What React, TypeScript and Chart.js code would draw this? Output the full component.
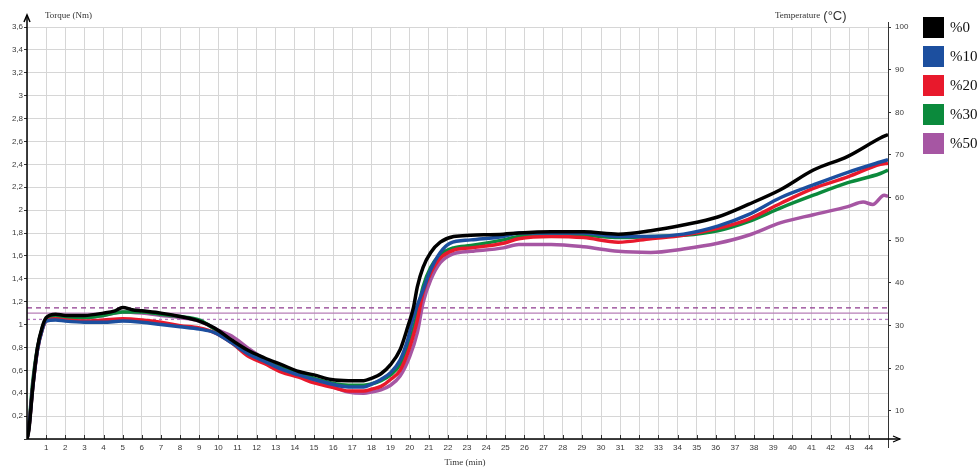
import React, { useEffect, useRef } from "react";
import { Chart, registerables } from "chart.js";
Chart.register(...registerables);

const seriesNames = ["%0", "%10", "%20", "%30", "%50"];
const seriesColors = ["#000000", "#1c4f9f", "#e8192c", "#0b8a3c", "#a656a3"];

const time0 = [0, 0.1, 0.3, 0.55, 0.8, 1.0, 1.5, 2, 3, 4, 4.6, 5, 5.5, 6, 7, 8, 9, 9.8, 10.7, 11.5, 12.4, 13.3, 14.2, 15, 15.9, 16.8, 17.6, 18.0, 18.5, 19.0, 19.5, 19.9, 20.2, 20.4, 20.7, 21.1, 21.6, 22.3, 23.2, 24.9, 25.7, 27.4, 29.1, 30.9, 32.6, 34.3, 36.1, 37.7, 39.4, 41.1, 42.9, 44.6, 45];
const torque0 = [0, 0.08, 0.45, 0.8, 0.98, 1.06, 1.09, 1.08, 1.08, 1.1, 1.12, 1.15, 1.13, 1.12, 1.1, 1.07, 1.03, 0.97, 0.865, 0.78, 0.71, 0.65, 0.59, 0.56, 0.52, 0.51, 0.51, 0.53, 0.57, 0.65, 0.78, 0.98, 1.15, 1.33, 1.5, 1.63, 1.72, 1.77, 1.78, 1.79, 1.8, 1.81, 1.81, 1.79, 1.82, 1.87, 1.94, 2.05, 2.18, 2.35, 2.47, 2.63, 2.66];

const time10 = [0, 0.1, 0.3, 0.55, 0.8, 1.0, 1.5, 2, 3, 4, 5, 6, 7, 8, 9, 9.8, 10.7, 11.5, 12.4, 13.3, 14.2, 15, 15.9, 16.8, 17.6, 18.0, 18.5, 19.0, 19.5, 19.9, 20.2, 20.7, 21.1, 21.6, 22.1, 23.2, 24.9, 25.7, 27.4, 29.1, 30.9, 32.6, 34.3, 36.1, 37.7, 39.4, 41.1, 42.9, 44.6, 45];
const torque10 = [0, 0.1, 0.45, 0.78, 0.96, 1.03, 1.04, 1.03, 1.02, 1.02, 1.03, 1.02, 1.0, 0.98, 0.96, 0.93, 0.84, 0.75, 0.68, 0.61, 0.56, 0.52, 0.48, 0.455, 0.455, 0.48, 0.52, 0.58, 0.69, 0.87, 1.07, 1.3, 1.48, 1.63, 1.71, 1.74, 1.77, 1.8, 1.8, 1.8, 1.77, 1.77, 1.79, 1.86, 1.96, 2.11, 2.22, 2.33, 2.42, 2.44];

const time20 = [0, 0.1, 0.3, 0.55, 0.8, 1.0, 1.5, 2, 3, 4, 5, 6, 7, 8, 9, 9.8, 10.7, 11.5, 12.4, 13.3, 14.2, 15, 15.9, 16.8, 17.6, 18.0, 18.5, 19.0, 19.5, 20.0, 20.4, 20.7, 21.1, 21.6, 22.3, 23.2, 24.9, 25.7, 27.4, 29.1, 30.9, 32.6, 34.3, 36.1, 37.7, 39.4, 41.1, 42.9, 44.6, 45];
const torque20 = [0, 0.1, 0.45, 0.78, 0.96, 1.03, 1.05, 1.04, 1.03, 1.04, 1.05, 1.04, 1.02, 0.99, 0.97, 0.93, 0.84, 0.73, 0.66, 0.585, 0.54, 0.49, 0.455, 0.42, 0.42, 0.435, 0.46, 0.52, 0.6, 0.8, 1.04, 1.28, 1.45, 1.58, 1.65, 1.67, 1.71, 1.75, 1.77, 1.76, 1.72, 1.75, 1.78, 1.84, 1.92, 2.06, 2.19, 2.29, 2.4, 2.41];

const time30 = [0, 0.1, 0.3, 0.55, 0.8, 1.0, 1.5, 2, 3, 4, 5, 6, 7, 8, 9, 9.8, 10.7, 11.5, 12.4, 13.3, 14.2, 15, 15.9, 16.8, 17.6, 18.0, 18.5, 19.0, 19.5, 20.0, 20.4, 20.7, 21.1, 21.6, 22.3, 23.2, 24.9, 25.7, 27.4, 29.1, 30.9, 32.6, 34.3, 36.1, 37.7, 39.4, 41.1, 42.9, 44.6, 45];
const torque30 = [0, 0.12, 0.5, 0.8, 0.97, 1.05, 1.07, 1.06, 1.06, 1.08, 1.11, 1.11, 1.09, 1.07, 1.04, 0.96, 0.85, 0.76, 0.68, 0.62, 0.58, 0.53, 0.49, 0.47, 0.47, 0.48, 0.51, 0.56, 0.65, 0.84, 1.1, 1.33, 1.5, 1.61, 1.67, 1.69, 1.74, 1.77, 1.78, 1.78, 1.76, 1.77, 1.78, 1.82, 1.9, 2.02, 2.13, 2.24, 2.32, 2.35];

const time50 = [0, 0.1, 0.3, 0.55, 0.8, 1.0, 1.5, 2, 3, 4, 5, 6, 7, 8, 9, 10, 10.7, 11.5, 12.4, 13.3, 14.2, 15, 15.9, 16.8, 17.6, 18.0, 18.5, 19.0, 19.5, 20.0, 20.4, 20.7, 21.1, 21.6, 22.3, 23.2, 24.9, 25.7, 27.4, 29.1, 30.9, 32.6, 34.3, 36.1, 37.7, 39.4, 41.1, 42.9, 43.7, 44.2, 44.8, 45];
const torque50 = [0, 0.1, 0.47, 0.79, 0.96, 1.04, 1.06, 1.06, 1.06, 1.08, 1.11, 1.1, 1.08, 1.06, 1.03, 0.95, 0.9, 0.8, 0.7, 0.62, 0.56, 0.51, 0.46, 0.41, 0.4, 0.41, 0.43, 0.47, 0.55, 0.72, 0.93, 1.19, 1.39, 1.54, 1.62, 1.64, 1.67, 1.7, 1.7, 1.68, 1.64, 1.63, 1.66, 1.71, 1.78, 1.89, 1.96, 2.03, 2.07, 2.05, 2.13, 2.12];

const seriesTimes = [time0, time10, time20, time30, time50];
const seriesTorques = [torque0, torque10, torque20, torque30, torque50];

const refLevels = [1.145, 1.1, 1.045];
const refColors = ["#8e3a8e", "#b77fb7", "#b67cc0"];
const refDashes = [[5, 4], [], [3, 3]];

const timeTicks = [1, 2, 3, 4, 5, 6, 7, 8, 9, 10, 11, 12, 13, 14, 15, 16, 17, 18, 19, 20, 21, 22, 23, 24, 25, 26, 27, 28, 29, 30, 31, 32, 33, 34, 35, 36, 37, 38, 39, 40, 41, 42, 43, 44];
const torqueTicks = [0.2, 0.4, 0.6, 0.8, 1, 1.2, 1.4, 1.6, 1.8, 2, 2.2, 2.4, 2.6, 2.8, 3, 3.2, 3.4, 3.6];
const tempTicks = [10, 20, 30, 40, 50, 60, 70, 80, 90, 100];

const SANS = "'Liberation Sans', Arial, sans-serif";
const SERIF = "'Liberation Serif', 'Times New Roman', serif";

const decoPlugin = {
  id: "deco",
  afterDraw(chart: any) {
    const ctx = chart.ctx;
    const a = chart.chartArea;
    const L = a.left, R = a.right, T = a.top, B = a.bottom;
    const xs = chart.scales.x;
    ctx.save();
    // inner x ticks
    ctx.strokeStyle = "#333";
    ctx.lineWidth = 1;
    for (const v of timeTicks) {
      const px = Math.round(xs.getPixelForValue(v)) + 0.5;
      ctx.beginPath();
      ctx.moveTo(px, B - 4);
      ctx.lineTo(px, B);
      ctx.stroke();
    }
    // right axis
    ctx.strokeStyle = "#333";
    ctx.lineWidth = 1;
    ctx.beginPath();
    ctx.moveTo(R + 0.5, T - 5);
    ctx.lineTo(R + 0.5, B + 9);
    ctx.stroke();
    // left axis with arrow
    ctx.strokeStyle = "#000";
    ctx.lineWidth = 1.5;
    ctx.beginPath();
    ctx.moveTo(L, B);
    ctx.lineTo(L, T - 12);
    ctx.stroke();
    ctx.beginPath();
    ctx.moveTo(L - 3, T - 5);
    ctx.lineTo(L, T - 12);
    ctx.lineTo(L + 3, T - 5);
    ctx.stroke();
    // bottom axis with arrow
    ctx.beginPath();
    ctx.moveTo(L, B);
    ctx.lineTo(R + 12, B);
    ctx.stroke();
    ctx.lineWidth = 1.2;
    ctx.beginPath();
    ctx.moveTo(R + 5, B - 3);
    ctx.lineTo(R + 12, B);
    ctx.lineTo(R + 5, B + 3);
    ctx.stroke();

    // titles
    ctx.fillStyle = "#333";
    ctx.textBaseline = "alphabetic";
    ctx.textAlign = "left";
    ctx.font = `9px ${SERIF}`;
    ctx.fillText("Torque (Nm)", 45, 18);
    ctx.fillText("Temperature", 775, 18);
    const tw = ctx.measureText("Temperature").width;
    ctx.font = `13px ${SANS}`;
    ctx.fillText("(°C)", 775 + tw + 3, 20);
    ctx.font = `9px ${SERIF}`;
    ctx.textAlign = "center";
    ctx.fillText("Time (min)", 465, 465);

    // legend
    const tops = [17, 46, 75, 104, 133];
    ctx.textAlign = "left";
    ctx.textBaseline = "middle";
    ctx.font = `15px ${SERIF}`;
    seriesNames.forEach((name, i) => {
      ctx.fillStyle = seriesColors[i];
      ctx.fillRect(923, tops[i], 21, 21);
      ctx.fillStyle = "#111";
      ctx.fillText(name, 950, tops[i] + 11);
    });
    ctx.restore();
  },
};

export default function App() {
  const ref = useRef<HTMLCanvasElement>(null);
  useEffect(() => {
    const canvas = ref.current;
    if (!canvas) return;
    const datasets: any[] = seriesNames.map((name, i) => ({
      label: name,
      data: seriesTimes[i].map((t, j) => ({ x: t, y: seriesTorques[i][j] })),
      borderColor: seriesColors[i],
      backgroundColor: seriesColors[i],
      borderWidth: 3.5,
      pointRadius: 0,
      cubicInterpolationMode: "monotone",
      yAxisID: "y",
      order: i,
    }));
    refLevels.forEach((lv, k) => {
      datasets.push({
        label: "ref" + k,
        data: [{ x: 0, y: lv }, { x: 45, y: lv }],
        borderColor: refColors[k],
        borderWidth: 1.3,
        borderDash: refDashes[k],
        pointRadius: 0,
        yAxisID: "y",
        order: 10 + k,
      });
    });
    const tickFont = { family: SANS, size: 8 };
    const chart = new Chart(canvas, {
      type: "line",
      data: { datasets },
      options: {
        animation: false,
        responsive: true,
        maintainAspectRatio: false,
        layout: { padding: { top: 27, left: 0, right: 0, bottom: 0 } },
        plugins: { legend: { display: false }, tooltip: { enabled: false } },
        scales: {
          x: {
            type: "linear",
            min: 0,
            max: 45,
            afterBuildTicks: (s: any) => {
              s.ticks = [0, ...timeTicks, 45].map((v) => ({ value: v }));
            },
            afterFit: (s: any) => {
              s.height = 29;
            },
            ticks: {
              autoSkip: false,
              maxRotation: 0,
              padding: 4,
              color: "#3a3a3a",
              font: tickFont,
              callback: (v: any) => (timeTicks.includes(Number(v)) ? String(v) : ""),
            },
            grid: { color: "#d6d6d6", lineWidth: 1, drawTicks: false },
            border: { display: false },
          },
          y: {
            position: "left",
            min: 0,
            max: 3.6,
            afterBuildTicks: (s: any) => {
              s.ticks = [0, ...torqueTicks].map((v) => ({ value: v }));
            },
            afterFit: (s: any) => {
              s.width = 27;
            },
            ticks: {
              padding: 1,
              color: "#3a3a3a",
              font: tickFont,
              callback: (v: any) => {
                const n = Number(v);
                if (n === 0) return "";
                return String(Math.round(n * 10) / 10).replace(".", ",");
              },
            },
            grid: { color: "#d6d6d6", lineWidth: 1, tickLength: 3, tickColor: "#333" },
            border: { display: false },
          },
          y2: {
            position: "right",
            min: 3.4,
            max: 100,
            afterBuildTicks: (s: any) => {
              s.ticks = tempTicks.map((v) => ({ value: v }));
            },
            afterFit: (s: any) => {
              s.width = 91;
            },
            ticks: { padding: 4, color: "#3a3a3a", font: tickFont },
            grid: { drawOnChartArea: false, tickLength: 3, tickColor: "#333" },
            border: { display: false },
          },
        },
      } as any,
      plugins: [decoPlugin],
    });
    return () => chart.destroy();
  }, []);
  return (
    <div style={{ position: "fixed", left: 0, top: 0, width: 979, height: 468, background: "#fff" }}>
      <canvas ref={ref} />
    </div>
  );
}
